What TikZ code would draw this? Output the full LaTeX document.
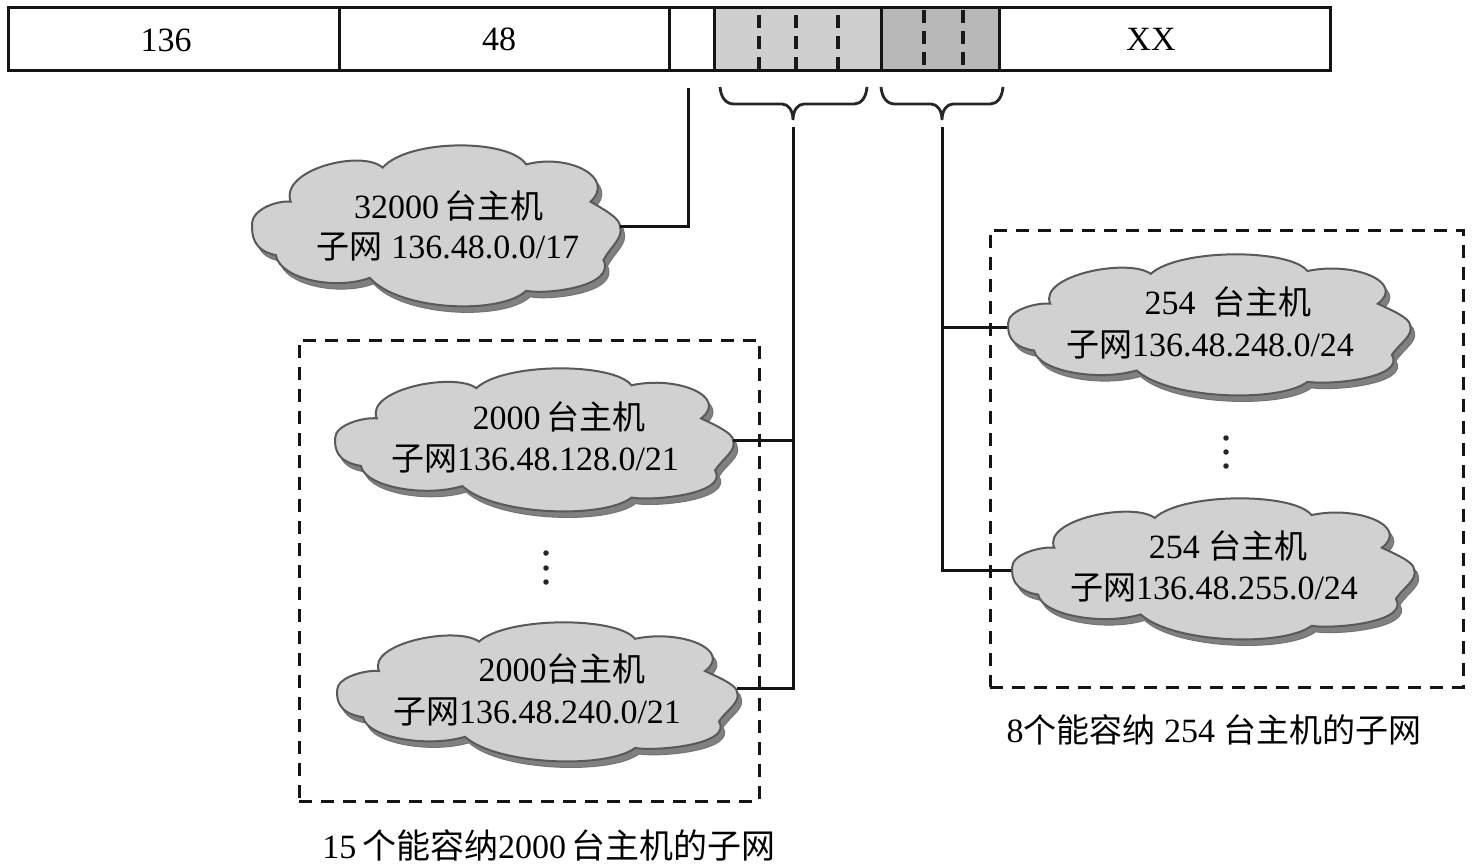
\documentclass[tikz,border=0pt]{standalone}
\usepackage{fontspec}
\setmainfont{Liberation Serif}
\newfontfamily\cjk{Noto Sans CJK SC}
\newcommand{\zh}[1]{{\cjk\fontsize{33}{38}\selectfont #1}}
\newcommand{\zhb}[1]{{\cjk\fontsize{34}{38}\selectfont #1}}
\newcommand{\cloudpath}{(-1,-.02) .. controls (-1,-.22) and (-.85,-.32) .. (-.79,-.30)
 .. controls (-.85,-.7) and (-.4,-.95) .. (-.29,-.72)
 .. controls (-.15,-1.08) and (.4,-1.08) .. (.49,-.76)
 .. controls (.72,-.9) and (.98,-.6) .. (.84,-.30)
 .. controls (.9,-.22) and (1,-.1) .. (1,0)
 .. controls (1.02,.15) and (.95,.25) .. (.91,.42)
 .. controls (.98,.75) and (.6,.85) .. (.49,.8)
 .. controls (.35,1.1) and (-.2,1.05) .. (-.36,.64)
 .. controls (-.55,.8) and (-.85,.65) .. (-.87,.36)
 .. controls (-1,.3) and (-1,.1) .. (-1,-.02) -- cycle}
\newcommand{\mycloud}[5]{%
 \begin{scope}[shift={(#2+4,#3+6)},xscale=#4,yscale=#5]
  \path[cloudshadow] \cloudpath;
 \end{scope}
 \begin{scope}[shift={(#2,#3)},xscale=#4,yscale=#5]
  \path[cloudbody] \cloudpath;
 \end{scope}
 \node[cloudanchor,minimum width=2*#4 pt,minimum height=2*#5 pt] (#1) at (#2,#3) {};}
\newcommand{\mybrace}[5]{% name, left, tip x, right, tip-name
 \draw[bracket] (#2,87) .. controls (#2+1,98) and (#2+6,104) .. (#2+14,104)
  -- (#3-11,104) .. controls (#3-5,104) and (#3,110) .. (#3,120)
  .. controls (#3,110) and (#3+5,104) .. (#3+11,104)
  -- (#4-13,104) .. controls (#4-6,104) and (#4-1,98) .. (#4,87);
 \coordinate (#1) at (#3,120);
 \coordinate (#5) at (#3,127);}
\tikzset{
 x=1pt,y=-1pt,
 txt/.style={anchor=base,inner sep=0pt,font=\fontsize{34}{40}\selectfont},
 cell/.style={draw=black!92,line width=3pt,minimum height=63pt,inner sep=0pt},
 cloudshadow/.style={fill=black!50,draw=black!55,line width=1pt},
 cloudbody/.style={fill=black!18,draw=black!65,line width=2pt},
 cloudanchor/.style={inner sep=0pt,outer sep=0pt,rectangle},
 wire/.style={draw=black!92,line width=3pt},
 bracket/.style={draw=black!85,line width=2.8pt},
 dashbox/.style={draw=black!92,line width=3pt,dash pattern=on 13pt off 9pt},
 fielddash/.style={draw=black!90,line width=3.2pt,dash pattern=on 13pt off 8pt},
 ddot/.style={circle,fill=black!85,inner sep=0pt,minimum size=5.5pt},
}
\begin{document}
\begin{tikzpicture}
\useasboundingbox (0,0) rectangle (1479,864);
\fill[white] (0,0) rectangle (1479,864);
% address bar
\node[cell,minimum width=331pt] (f1) at (173.5,39.5) {};
\node[cell,minimum width=330pt] (f2) at (504,39.5) {};
\node[cell,minimum width=45pt] (f3) at (691.5,39.5) {};
\node[cell,minimum width=167pt,fill=black!19] (f4) at (797.5,39.5) {};
\node[cell,minimum width=118pt,fill=black!28] (f5) at (940,39.5) {};
\node[cell,minimum width=331pt] (f6) at (1164.5,39.5) {};
\node[txt] (t136) at (166,52) {136};
\node[txt] (t48) at (499,51) {48};
\node[txt] (txx) at (1151,51) {XX};
\foreach \px in {759,796,838}{\draw[fielddash] (\px,70) -- (\px,10);}
\foreach \px in {924,963}{\draw[fielddash] (\px,10) -- (\px,70);}
% braces
\mybrace{bt1}{720}{793}{867}{b1}
\mybrace{bt2}{881}{942}{1003}{b2}
\coordinate (b0) at (688,88);
\coordinate (c3p) at (750,688);
\coordinate (c1p) at (640,226);
\coordinate (c4p) at (1030,327);
\coordinate (c5p) at (1030,570);
\coordinate (c2p) at (750,440);
% connectors (their inner ends are covered by the clouds)
\draw[wire] (b0) |- (c1p);
\draw[wire] (b1) |- (c3p);
\draw[wire] (b2) |- (c5p);
\draw[wire] (c4p) -- (c4p -| b2);
\draw[wire] (c2p) -- (c2p -| b1);
% clouds
\mycloud{c1}{436}{226}{184}{81}
\mycloud{c2}{534}{440}{199}{72}
\mycloud{c3}{537}{692}{200}{70}
\mycloud{c4}{1209}{325}{201}{71}
\mycloud{c5}{1213}{569}{201}{71}
\draw[wire] (c1.east) -- (c1p);
\draw[wire] (c2.east) -- (c2p);
\draw[wire] (c3.east |- c3p) -- (c3p);
% dashed groups
\node[dashbox,minimum width=460pt,minimum height=461pt,inner sep=0pt] (g1) at (529,570.5) {};
\node[dashbox,minimum width=473pt,minimum height=457pt,inner sep=0pt] (g2) at (1226.5,458.5) {};
% cloud texts
\node[txt] (l1a) at (449,218) {32000\,\zh{台主机}};
\node[txt] (l1b) at (448,258) {\zh{子网} 136.48.0.0/17};
\node[txt] (l2a) at (559,429) {2000\,\zh{台主机}};
\node[txt] (l2b) at (535,470) {\zh{子网}136.48.128.0/21};
\node[txt] (l3a) at (562,681) {2000\zh{台主机}};
\node[txt] (l3b) at (537,723) {\zh{子网}136.48.240.0/21};
\node[txt] (l4a) at (1228,314) {254\ \ \zh{台主机}};
\node[txt] (l4b) at (1210,356) {\zh{子网}136.48.248.0/24};
\node[txt] (l5a) at (1228,558) {254 \zh{台主机}};
\node[txt] (l5b) at (1214,599) {\zh{子网}136.48.255.0/24};
% vertical dots
\foreach \py/\pn in {553/a,568/b,582/c}{\node[ddot] (v\pn) at (546,\py) {};}
\foreach \py/\pn in {438/a,452/b,466/c}{\node[ddot] (w\pn) at (1226,\py) {};}
% captions
\node[txt] (cap1) at (549,858) {15\,\zhb{个能容纳}2000\,\zhb{台主机的子网}};
\node[txt] (cap2) at (1214,742) {8\zh{个能容纳} 254 \zh{台主机的子网}};
\end{tikzpicture}
\end{document}
